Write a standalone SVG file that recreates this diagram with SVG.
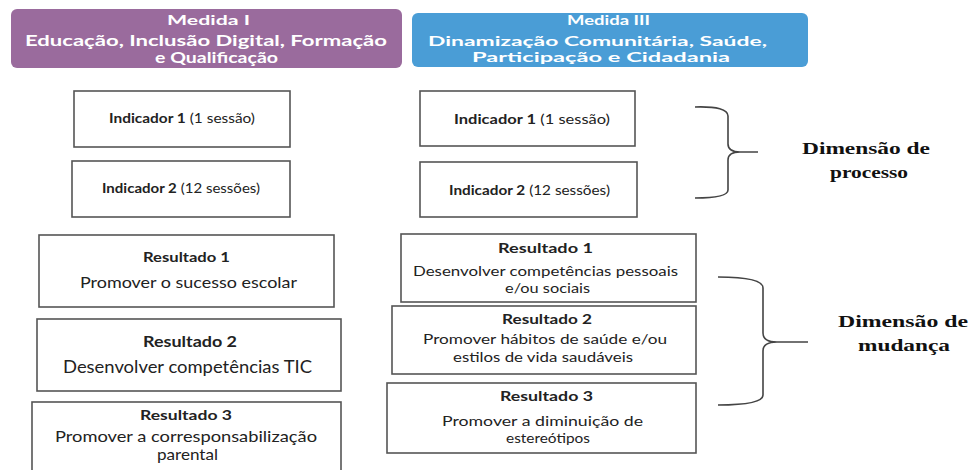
<svg xmlns="http://www.w3.org/2000/svg" width="970" height="470" viewBox="0 0 970 470">
<style>
.hdr{font-family:Lato,"Open Sans","DejaVu Sans",sans-serif;font-weight:bold;fill:#ffffff;}
.box{fill:#ffffff;stroke:#555555;stroke-width:1.6;}
.t{font-family:Lato,"Open Sans","DejaVu Sans",sans-serif;fill:#222222;}
.b{font-weight:bold;}
.dim{font-family:"Liberation Serif","DejaVu Serif",serif;font-weight:bold;fill:#111111;font-size:17px;}
.brace{fill:none;stroke:#444444;stroke-width:1.6;}
</style>
<rect width="970" height="470" fill="#ffffff"/>
<g id="medida1">
<rect x="11" y="9" width="391" height="59" rx="6" fill="#9a6b9d"/>
<text class="hdr" x="167" y="25" font-size="14" textLength="83" lengthAdjust="spacingAndGlyphs">Medida I</text>
<text class="hdr" x="25" y="46" font-size="14.5" textLength="362" lengthAdjust="spacingAndGlyphs">Educação, Inclusão Digital, Formação</text>
<text class="hdr" x="155" y="63" font-size="14.5" textLength="123" lengthAdjust="spacingAndGlyphs">e Qualificação</text>
</g>
<g id="medida3">
<rect x="412" y="13" width="396" height="54" rx="6" fill="#4a9dd6"/>
<text class="hdr" x="567" y="25" font-size="13" textLength="83" lengthAdjust="spacingAndGlyphs">Medida III</text>
<text class="hdr" x="428" y="46" font-size="14" textLength="339" lengthAdjust="spacingAndGlyphs">Dinamização Comunitária, Saúde,</text>
<text class="hdr" x="472" y="62" font-size="14" textLength="258" lengthAdjust="spacingAndGlyphs">Participação e Cidadania</text>
</g>
<g id="ind1a">
<rect class="box" x="74" y="91" width="216" height="56"/>
<text class="t" x="109" y="123" font-size="13" textLength="146" lengthAdjust="spacingAndGlyphs"><tspan class="b">Indicador 1</tspan> (1 sessão)</text>
</g>
<g id="ind2a">
<rect class="box" x="72" y="161" width="218" height="56"/>
<text class="t" x="102" y="193" font-size="13" textLength="158" lengthAdjust="spacingAndGlyphs"><tspan class="b">Indicador 2</tspan> (12 sessões)</text>
</g>
<g id="ind1b">
<rect class="box" x="420" y="91" width="215" height="55"/>
<text class="t" x="454" y="124" font-size="13" textLength="156" lengthAdjust="spacingAndGlyphs"><tspan class="b">Indicador 1</tspan> (1 sessão)</text>
</g>
<g id="ind2b">
<rect class="box" x="420" y="162" width="217" height="55"/>
<text class="t" x="449" y="195" font-size="13" textLength="161" lengthAdjust="spacingAndGlyphs"><tspan class="b">Indicador 2</tspan> (12 sessões)</text>
</g>
<g id="res1a">
<rect class="box" x="39" y="235" width="295" height="72"/>
<text class="t b" x="143" y="262" font-size="14" textLength="87" lengthAdjust="spacingAndGlyphs">Resultado 1</text>
<text class="t" x="80" y="288" font-size="16" textLength="217" lengthAdjust="spacingAndGlyphs">Promover o sucesso escolar</text>
</g>
<g id="res2a">
<rect class="box" x="37" y="319" width="304" height="72"/>
<text class="t b" x="143" y="347" font-size="15" textLength="94" lengthAdjust="spacingAndGlyphs">Resultado 2</text>
<text class="t" x="63" y="373" font-size="17" textLength="249" lengthAdjust="spacingAndGlyphs">Desenvolver competências TIC</text>
</g>
<g id="res3a">
<rect class="box" x="32" y="402" width="309" height="75"/>
<text class="t b" x="140" y="420" font-size="13" textLength="92" lengthAdjust="spacingAndGlyphs">Resultado 3</text>
<text class="t" x="55" y="442" font-size="15" textLength="262" lengthAdjust="spacingAndGlyphs">Promover a corresponsabilização</text>
<text class="t" x="157" y="460" font-size="15" textLength="61" lengthAdjust="spacingAndGlyphs">parental</text>
</g>
<g id="res1b">
<rect class="box" x="401" y="234" width="295" height="68"/>
<text class="t b" x="498" y="253" font-size="13" textLength="95" lengthAdjust="spacingAndGlyphs">Resultado 1</text>
<text class="t" x="413" y="276" font-size="14" textLength="265" lengthAdjust="spacingAndGlyphs">Desenvolver competências pessoais</text>
<text class="t" x="505" y="293" font-size="14" textLength="85" lengthAdjust="spacingAndGlyphs">e/ou sociais</text>
</g>
<g id="res2b">
<rect class="box" x="392" y="306" width="304" height="68"/>
<text class="t b" x="502" y="324" font-size="13" textLength="90" lengthAdjust="spacingAndGlyphs">Resultado 2</text>
<text class="t" x="423" y="344" font-size="14" textLength="244" lengthAdjust="spacingAndGlyphs">Promover hábitos de saúde e/ou</text>
<text class="t" x="453" y="362" font-size="14" textLength="180" lengthAdjust="spacingAndGlyphs">estilos de vida saudáveis</text>
</g>
<g id="res3b">
<rect class="box" x="387" y="383" width="309" height="70"/>
<text class="t b" x="500" y="401" font-size="13" textLength="93" lengthAdjust="spacingAndGlyphs">Resultado 3</text>
<text class="t" x="442" y="426" font-size="14" textLength="201" lengthAdjust="spacingAndGlyphs">Promover a diminuição de</text>
<text class="t" x="506" y="443" font-size="14" textLength="84" lengthAdjust="spacingAndGlyphs">estereótipos</text>
</g>
<g id="connectors">
<path class="brace" d="M695,107 Q728,106 728,116 L728,144 Q728,152 740,152 L758,152 M740,152 Q728,152 728,160 L728,190 Q728,198 695,198"/>
<path class="brace" d="M718,277 Q763,277 763,288 L763,333 Q763,342 777,342 L808,342 M777,342 Q763,342 763,351 L763,395 Q763,405 718,405"/>
</g>
<g id="dimProcesso">
<text class="dim" x="802" y="154" textLength="128" lengthAdjust="spacingAndGlyphs">Dimensão de</text>
<text class="dim" x="830" y="178" textLength="78" lengthAdjust="spacingAndGlyphs">processo</text>
</g>
<g id="dimMudanca">
<text class="dim" x="838" y="327" textLength="130" lengthAdjust="spacingAndGlyphs">Dimensão de</text>
<text class="dim" x="858" y="351" textLength="92" lengthAdjust="spacingAndGlyphs">mudança</text>
</g>
</svg>
